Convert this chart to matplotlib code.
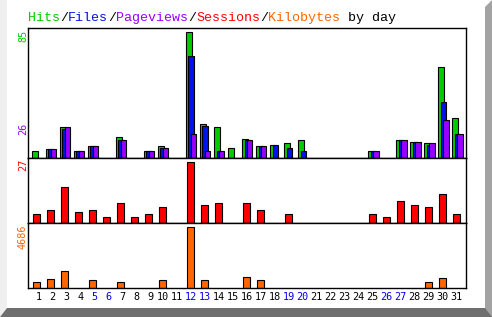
import matplotlib
matplotlib.use('Agg')
import matplotlib.pyplot as plt
from matplotlib.patches import Polygon
import numpy as np

days = np.arange(1, 32)
hits = [5, 6, 21, 5, 8, 0, 14, 0, 5, 8, 0, 85, 23, 21, 7, 13, 8, 9, 10, 12, 0, 0, 0, 0, 5, 0, 12, 11, 10, 61, 27]
files = [0, 6, 20, 5, 8, 0, 12, 0, 5, 7, 0, 69, 22, 5, 0, 12, 8, 9, 7, 5, 0, 0, 0, 0, 5, 0, 12, 11, 9, 38, 16]
pages = [0, 6, 21, 5, 8, 0, 12, 0, 5, 7, 0, 16, 5, 5, 0, 12, 8, 0, 0, 0, 0, 0, 0, 0, 5, 0, 12, 11, 10, 26, 16]
sessions = [4, 6, 16, 5, 6, 3, 9, 3, 4, 7, 0, 27, 8, 9, 0, 9, 6, 0, 4, 0, 0, 0, 0, 0, 4, 3, 10, 8, 7, 13, 4]
kbytes = [481, 710, 1322, 0, 634, 0, 481, 0, 0, 634, 0, 4686, 634, 0, 0, 863, 634, 0, 0, 0, 0, 0, 0, 0, 0, 0, 0, 0, 481, 787, 0]
weekend = [5, 6, 12, 13, 19, 20, 26, 27]

c_hits = '#00cc00'
c_files = '#0011ee'
c_pages = '#9900ff'
c_sess = '#ff0000'
c_kb = '#ff6600'

W, H = 492, 317
fig = plt.figure(figsize=(W / 100, H / 100), dpi=100)
fig.patch.set_facecolor('white')

# background frame (light strip left, grey shadow right and bottom)
bg = fig.add_axes([0, 0, 1, 1])
bg.set_xlim(0, W)
bg.set_ylim(H, 0)
bg.axis('off')
bg.add_patch(Polygon([(0, 0), (7, 0), (7, 308), (0, 317)], color='#efefef', lw=0))
bg.add_patch(Polygon([(485, 7), (492, 0), (492, 317), (485, 317)], color='#a3a3a3', lw=0))
bg.add_patch(Polygon([(7, 308), (485, 308), (492, 317), (0, 317)], color='#6f6f6f', lw=0))


def rect(x0, y0, x1, y1):
    return [x0 / W, 1 - y1 / H, (x1 - x0) / W, (y1 - y0) / H]


ax1 = fig.add_axes(rect(28, 28, 465.5, 158.3))
ax2 = fig.add_axes(rect(28, 158.3, 465.5, 223.3))
ax3 = fig.add_axes(rect(28, 223.3, 465.5, 288.3))

lw = 0.8


def bars(ax, vals, off, width, color):
    v = np.array(vals)
    m = v > 0
    ax.bar(days[m] + off, v[m], width=width, color=color, edgecolor='black', linewidth=lw)


bars(ax1, hits, -0.13, 0.42, c_hits)
bars(ax1, files, 0.06, 0.42, c_files)
bars(ax1, pages, 0.21, 0.42, c_pages)
bars(ax2, sessions, 0, 0.54, c_sess)
bars(ax3, kbytes, 0, 0.54, c_kb)

ax1.set_ylim(0, 85 * 130.3 / 126.6)
ax2.set_ylim(0, 27 * 65 / 61)
ax3.set_ylim(0, 4686 * 65 / 61.3)

for ax in (ax1, ax2, ax3):
    ax.set_xlim(0.39, 31.63)
    ax.set_xticks([])
    ax.set_yticks([])
    ax.set_facecolor('white')
    for s in ax.spines.values():
        s.set_linewidth(1.0)
        s.set_color('black')

mono = 'DejaVu Sans Mono'


def ylab(y_px, txt, color):
    fig.text(23 / W, 1 - y_px / H, txt, rotation=90, ha='center', va='top',
             color=color, fontsize=7.3, family=mono)


ylab(29.5, str(max(hits)), c_hits)
ylab(122.5, str(max(pages)), c_pages)
ylab(159, str(max(sessions)), c_sess)
ylab(224.5, str(max(kbytes)), c_kb)

# day labels
for d in days:
    col = '#0000ee' if d in weekend else 'black'
    xo = 0.15 if d < 10 else 0
    ax3.text(d + xo, -0.14, str(d), transform=ax3.get_xaxis_transform(),
             ha='center', va='center', fontsize=7.3, family=mono, color=col)

# title in coloured pieces
parts = [('Hits', c_hits), ('/', 'black'), ('Files', c_files), ('/', 'black'),
         ('Pageviews', c_pages), ('/', 'black'), ('Sessions', c_sess), ('/', 'black'),
         ('Kilobytes', c_kb), (' by day', 'black')]
pos = 0
for t, c in parts:
    fig.text((28 + pos * 8.0) / W, 1 - 20.7 / H, t, color=c, fontsize=9.6,
             family='Liberation Mono', ha='left', va='baseline')
    pos += len(t)

fig.savefig('out.png', dpi=100)
